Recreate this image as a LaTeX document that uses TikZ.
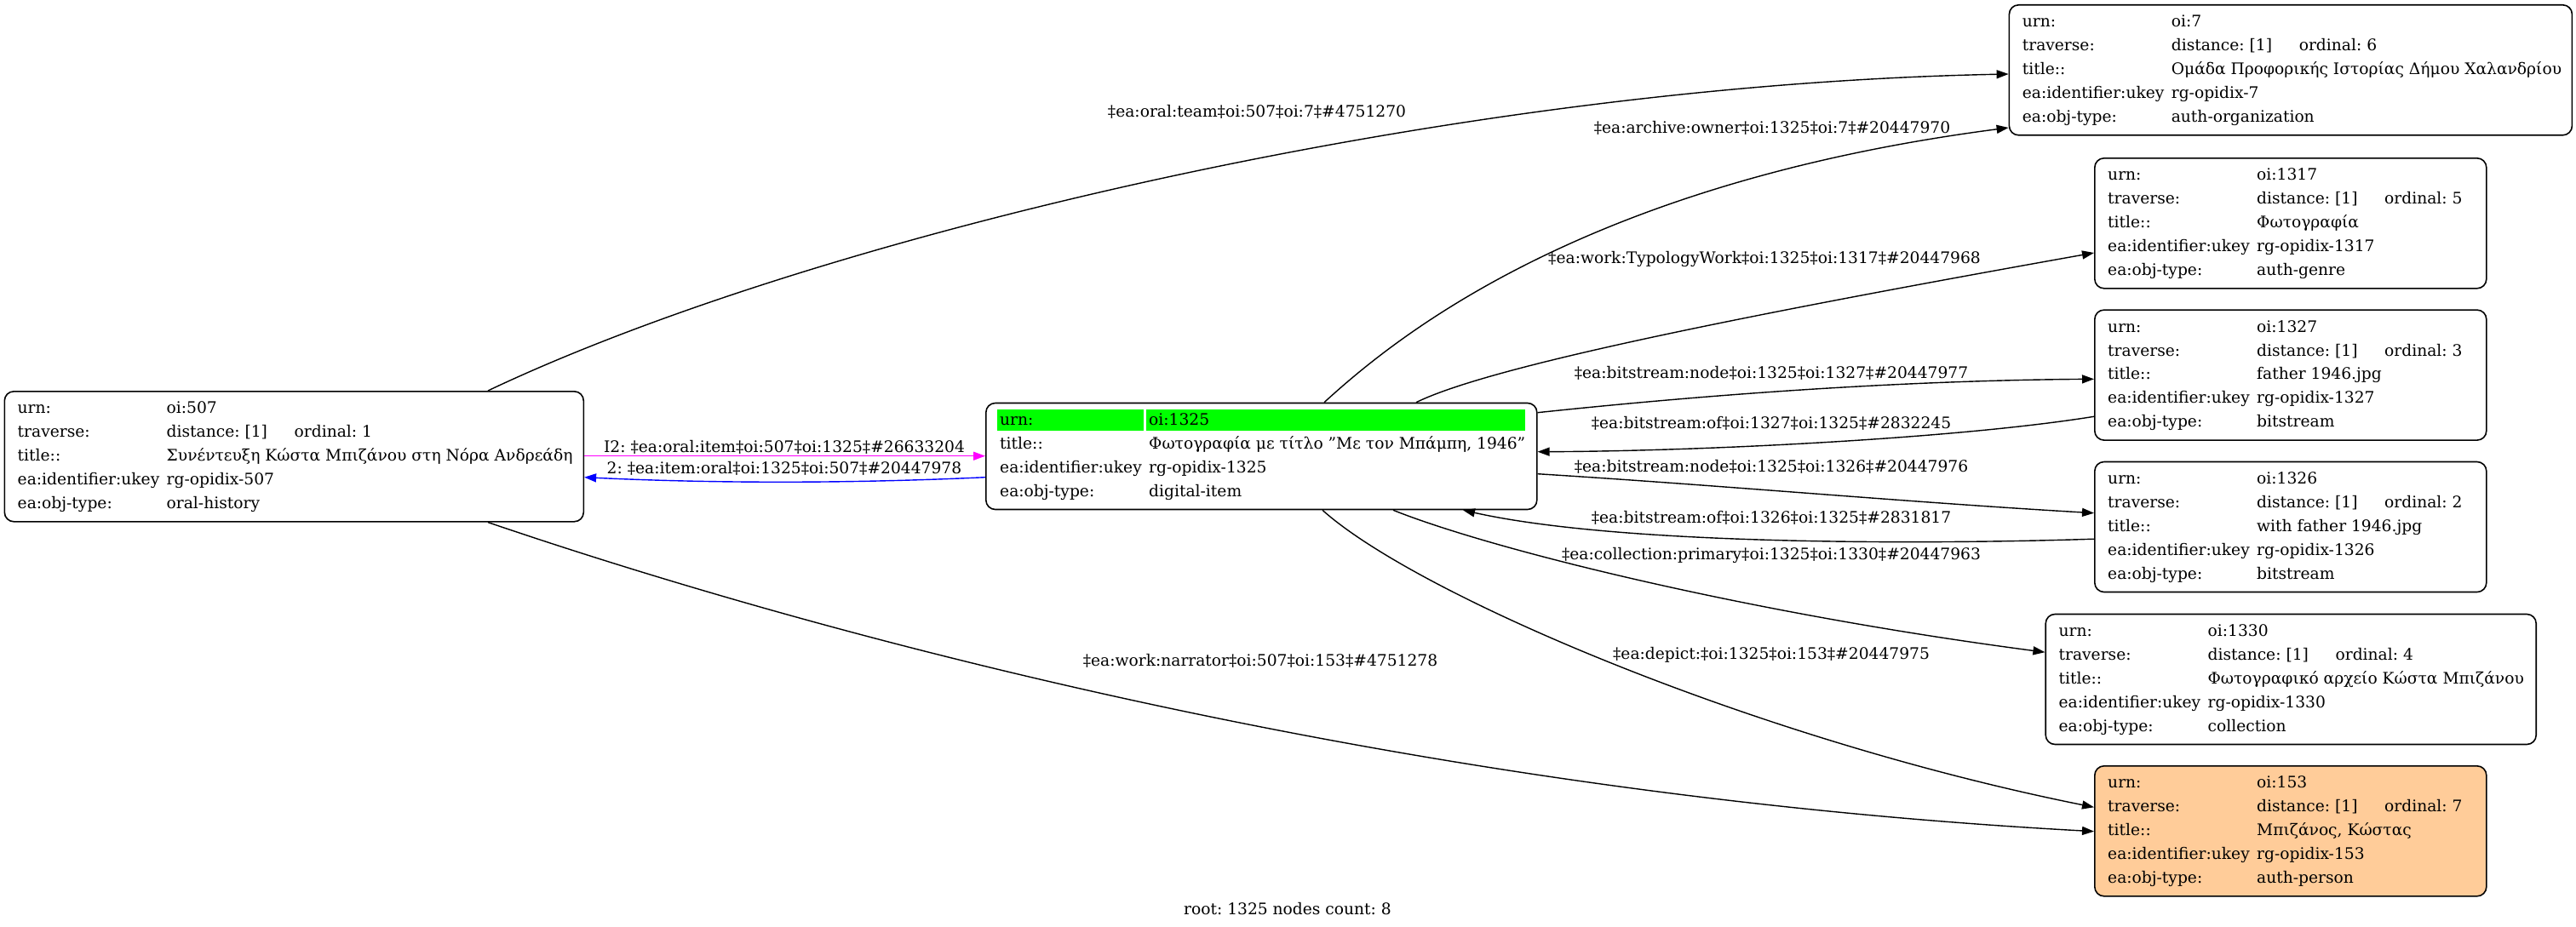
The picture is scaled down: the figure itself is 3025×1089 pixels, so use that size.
\documentclass[tikz,border=0pt]{standalone}
\usepackage{fontspec}
\setmainfont{DejaVu Serif}
\usetikzlibrary{calc,arrows.meta}
\frenchspacing
\newcommand\recfont{\fontsize{18.67pt}{22pt}\selectfont\frenchspacing}
\definecolor{hlgreen}{HTML}{00FF00}
\definecolor{peach}{HTML}{FFCC99}
\definecolor{edgemag}{HTML}{FF00FF}
\definecolor{edgeblue}{HTML}{0000FF}
\tikzset{
  every node/.append style={font=\recfont},
  recbox/.style={draw=black, line width=1.6pt, rounded corners=11pt, minimum height=153pt, inner sep=0pt, anchor=north west},
  rowtxt/.style={anchor=base west, inner sep=0pt},
  lbl/.style={anchor=base, inner sep=0pt},
  greencell/.style={fill=hlgreen, draw=none, minimum height=25pt, inner sep=0pt, anchor=north west},
  conn/.style={draw=black, line width=1.4pt, -{Triangle[length=14pt,width=10pt]}},
}
% #1 id, #2 x, #3 y, #4 width, #5 fill, #6 ordinal, #7 title, #8 type
\newcommand\mkrec[8]{%
  \node[recbox, fill=#5, minimum width=#4pt] (n#1) at (#2,#3) {};
  \node[rowtxt] (n#1a1) at ($(n#1.north west)+(16,26.8)$) {urn:};
  \node[rowtxt] (n#1b1) at ($(n#1.north west)+(191,26.8)$) {oi:#1};
  \node[rowtxt] (n#1a2) at ($(n#1.north west)+(16,54.7)$) {traverse:};
  \node[rowtxt] (n#1b2) at ($(n#1.north west)+(191,54.7)$) {distance: [1]};
  \node[rowtxt] (n#1c2) at ($(n#1.north west)+(341,54.7)$) {ordinal: #6};
  \node[rowtxt] (n#1a3) at ($(n#1.north west)+(16,82.6)$) {title::};
  \node[rowtxt] (n#1b3) at ($(n#1.north west)+(191,82.6)$) {#7};
  \node[rowtxt] (n#1a4) at ($(n#1.north west)+(16,110.5)$) {ea:identifier:ukey};
  \node[rowtxt] (n#1b4) at ($(n#1.north west)+(191,110.5)$) {rg-opidix-#1};
  \node[rowtxt] (n#1a5) at ($(n#1.north west)+(16,138.4)$) {ea:obj-type:};
  \node[rowtxt] (n#1b5) at ($(n#1.north west)+(191,138.4)$) {#8};
}
\begin{document}
\begin{tikzpicture}[x=1pt,y=-1pt]
\useasboundingbox[fill=white] (0,0) rectangle (3025,1089);

% record nodes
\mkrec{507}{4.5}{459}{680}{white}{1}{Συνέντευξη Κώστα Μπιζάνου στη Νόρα Ανδρεάδη}{oral-history}
\mkrec{7}{2358.6}{5}{661}{white}{6}{Ομάδα Προφορικής Ιστορίας Δήμου Χαλανδρίου}{auth-organization}
\mkrec{1317}{2459}{185}{460}{white}{5}{Φωτογραφία}{auth-genre}
\mkrec{1327}{2459}{363.3}{460}{white}{3}{father 1946.jpg}{bitstream}
\mkrec{1326}{2459}{541.7}{460}{white}{2}{with father 1946.jpg}{bitstream}
\mkrec{1330}{2401.4}{720.7}{576}{white}{4}{Φωτογραφικό αρχείο Κώστα Μπιζάνου}{collection}
\mkrec{153}{2459}{899}{460}{peach}{7}{Μπιζάνος, Κώστας}{auth-person}

% root node 1325
\node[recbox, fill=white, minimum width=647pt, minimum height=125pt] (n1325) at (1157,472.7) {};
\node[greencell, minimum width=172pt] (g1325a) at ($(n1325.north west)+(14,8.3)$) {};
\node[greencell, minimum width=445pt] (g1325b) at ($(n1325.north west)+(189,8.3)$) {};
\node[rowtxt] (n1325a1) at ($(n1325.north west)+(17,26.3)$) {urn:};
\node[rowtxt] (n1325b1) at ($(n1325.north west)+(192,26.3)$) {oi:1325};
\node[rowtxt] (n1325a2) at ($(n1325.north west)+(17,55.2)$) {title::};
\node[rowtxt] (n1325b2) at ($(n1325.north west)+(192,55.2)$) {Φωτογραφία με τίτλο \char"22 Με τον Μπάμπη, 1946\char"22};
\node[rowtxt] (n1325a3) at ($(n1325.north west)+(17,83.1)$) {ea:identifier:ukey};
\node[rowtxt] (n1325b3) at ($(n1325.north west)+(192,83.1)$) {rg-opidix-1325};
\node[rowtxt] (n1325a4) at ($(n1325.north west)+(17,110.8)$) {ea:obj-type:};
\node[rowtxt] (n1325b4) at ($(n1325.north west)+(192,110.8)$) {digital-item};

% connectors
\draw[conn] ($(n507.north west)+(568.5,0)$) .. controls (950,280) and (1700,100) .. ($(n7.north west)+(0,82)$);
\draw[conn] ($(n1325.north west)+(398,0)$) .. controls (1640,395) and (1860,215) .. ($(n7.north west)+(0,145)$);
\draw[conn] ($(n1325.north west)+(506,0)$) .. controls (1750,430) and (2050,370) .. ($(n1317.north west)+(0,112)$);
\draw[conn] ($(n1325.north east)+(0,12)$) .. controls (2020,462) and (2240,447) .. ($(n1327.north west)+(0,82)$);
\draw[conn] ($(n1327.north west)+(0,126)$) .. controls (2300,515) and (2000,530) .. ($(n1325.north east)+(0,58)$);
\draw[conn] ($(n1325.north east)+(0,84)$) .. controls (2020,570) and (2240,590) .. ($(n1326.north west)+(0,61)$);
\draw[conn] ($(n1326.north west)+(0,91.5)$) .. controls (2250,640) and (1900,640) .. ($(n1325.south west)+(561,0)$);
\draw[conn] ($(n1325.south west)+(479,0)$) .. controls (1750,645) and (2050,720) .. ($(n1330.north west)+(0,45.5)$);
\draw[conn] ($(n1325.south west)+(396,0)$) .. controls (1663,698) and (2059,868) .. ($(n153.north west)+(0,49.3)$);
\draw[conn] ($(n507.south west)+(568.5,0)$) .. controls (900,725) and (1600,930) .. ($(n153.north west)+(0,77.7)$);
\draw[conn, draw=edgemag, -{Triangle[length=14pt,width=10pt,fill=edgemag]}] ($(n507.north east)+(0,76.7)$) -- ($(n1325.north west)+(0,63)$);
\draw[conn, draw=edgeblue, -{Triangle[length=14pt,width=10pt,fill=edgeblue]}] ($(n1325.north west)+(0,88)$) .. controls (1000,568) and (840,568) .. ($(n507.north east)+(0,101.7)$);

% edge labels
\node[lbl] (l1) at (1476,138) {‡ea:oral:team‡oi:507‡oi:7‡\#4751270};
\node[lbl] (l2) at (2081,156.5) {‡ea:archive:owner‡oi:1325‡oi:7‡\#20447970};
\node[lbl] (l3) at (2072,309.5) {‡ea:work:TypologyWork‡oi:1325‡oi:1317‡\#20447968};
\node[lbl] (l4) at (2080,444.5) {‡ea:bitstream:node‡oi:1325‡oi:1327‡\#20447977};
\node[lbl] (l5) at (2080,503) {‡ea:bitstream:of‡oi:1327‡oi:1325‡\#2832245};
\node[lbl] (l6) at (2080,554.5) {‡ea:bitstream:node‡oi:1325‡oi:1326‡\#20447976};
\node[lbl] (l7) at (2080,614.5) {‡ea:bitstream:of‡oi:1326‡oi:1325‡\#2831817};
\node[lbl] (l8) at (2080,657.5) {‡ea:collection:primary‡oi:1325‡oi:1330‡\#20447963};
\node[lbl] (l9) at (2080,774.5) {‡ea:depict:‡oi:1325‡oi:153‡\#20447975};
\node[lbl] (l10) at (1480,782) {‡ea:work:narrator‡oi:507‡oi:153‡\#4751278};
\node[lbl] (l11) at (921,531.5) {I2: ‡ea:oral:item‡oi:507‡oi:1325‡\#26633204};
\node[lbl] (l12) at (921,556.5) {2: ‡ea:item:oral‡oi:1325‡oi:507‡\#20447978};

% caption
\node[lbl] (cap) at (1512,1074) {root: 1325 nodes count: 8};
\end{tikzpicture}
\end{document}
